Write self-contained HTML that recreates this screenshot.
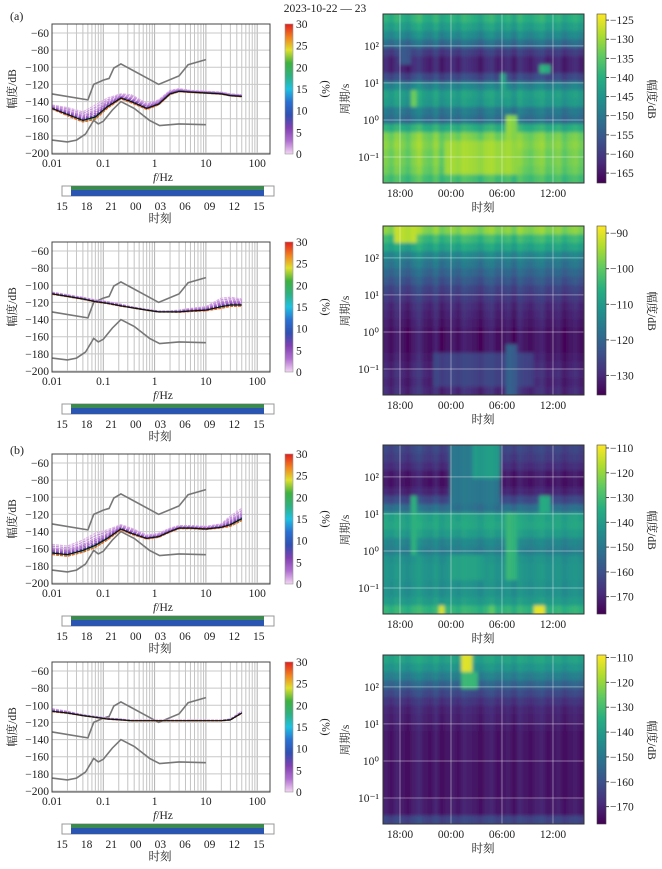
<!DOCTYPE html>
<html><head><meta charset="utf-8">
<style>
html,body{margin:0;padding:0;background:#fff;}
svg{display:block;font-family:"Liberation Serif","Times New Roman","Noto Serif CJK SC",serif;}
text{fill:#222;}
</style></head>
<body>
<svg id="fig" width="662" height="869" viewBox="0 0 662 869" xmlns="http://www.w3.org/2000/svg">
<defs>
<filter id="blur" x="0" y="0" width="1" height="1"><feGaussianBlur stdDeviation="1.6"/></filter>
</defs>
<text x="325" y="12" font-size="11.5" text-anchor="middle">2023-10-22 — 23</text>
<text x="10" y="20" font-size="12">(a)</text>
<text x="10" y="454" font-size="12">(b)</text>
</svg>
<script>
// ---------- data ----------
const freqs=[0.01,0.02,0.04,0.07,0.12,0.22,0.35,0.7,1.2,2,3,5,10,20,30,50];
const medA=[-148,-155,-162,-158,-146,-136,-140,-148,-143,-131,-128,-129,-130,-131,-133,-134];
const spreadA=[4,8,10,14,10,5,8,6,5,4,3,2,2,2,2,2];
const medB=[-110,-113,-116,-119,-121,-124,-126,-129,-131,-131,-131,-130,-129,-125,-123,-123];
const spreadB=[2,2,2,2,2,2,1,1,1,1,2,3,4,10,9,7];
const medC=[-165,-167,-162,-156,-148,-137,-142,-148,-146,-140,-136,-136,-137,-135,-132,-125];
const spreadC=[10,10,12,14,10,5,6,4,4,4,3,3,3,4,10,12];
const medD=[-107,-109,-112,-114,-116,-117,-118,-118,-118,-118,-118,-118,-118,-118,-117,-109];
const spreadD=[3,2,1,1,1,1,0.5,0.5,0.5,0.5,0.5,0.5,0.5,0.5,1,2];
const lineOffsets=[1.0,0.8,0.6,0.45,0.3,0.15,0.05,-0.1,-0.2,-0.3];
const linePct=[1,2,2,3,4,6,9,14,20,28];
const hiF=[0.01,0.05,0.065,0.1,0.13,0.16,0.22,1.2,3,4.5,10];
const hiDb=[-131,-138,-120,-115,-113,-101,-96,-120,-110,-97,-91];
const loF=[0.01,0.02,0.03,0.045,0.065,0.08,0.1,0.15,0.22,0.4,0.8,1.25,3,10];
const loDb=[-185,-187,-185,-178,-162,-166,-163,-150,-140,-148,-162,-168,-166,-167];
const dbTicks=[-60,-80,-100,-120,-140,-160,-180,-200];
const fTicks=[0.01,0.1,1,10,100];
const fTickLabels=['0.01','0.1','1','10','100'];
const pctTicks=[0,5,10,15,20,25,30];
const hourLabels=['15','18','21','00','03','06','09','12','15'];

// spectrogram data (rows from long period to short period)
const rowsA=[-140,-143,-147,-152,-160,-163,-163,-158,-148,-143,-144,-150,-152,-140,-133,-132,-133,-133,-134,-137];
const eventsA=[[3.2,3.8,0.3,0.9,-134],[13.5,14.5,0.6,1.3,-142],[14.5,16,-0.6,0.2,-131],[18.3,19.5,1.2,1.6,-140],[7,16,-1.4,-0.5,-130],[2,3,1.4,2.0,-155]];
const rowsB=[-97,-104,-108,-114,-117,-120,-123,-126,-128,-130,-131,-132,-133,-133,-133,-132,-131,-130,-131,-130];
const eventsB=[[6,18,-1.45,-0.6,-126],[14.5,15.5,-1.6,-0.3,-121],[1,4,2.5,2.86,-93]];
const rowsC=[-163,-165,-168,-172,-173,-170,-162,-152,-138,-137,-140,-146,-148,-143,-142,-142,-143,-143,-140,-133];
const eventsC=[[8,13.5,1.3,2.86,-150],[10.5,13.5,2.0,2.86,-140],[3.2,4,0,1.5,-134],[14.5,15.5,-0.7,1.0,-132],[18.5,19.5,1.0,1.6,-136],[6.5,7.5,-1.7,-1.45,-112],[17.8,18.8,-1.7,-1.45,-112],[12.5,13.2,-1.7,-1.45,-127],[8,12,-0.7,0,-138]];
const rowsD=[-138,-142,-148,-155,-162,-167,-170,-171,-172,-173,-173,-173,-173,-173,-173,-173,-173,-172,-172,-163];
const eventsD=[[9.5,10.5,2.5,2.86,-113],[9,11,2.0,2.5,-132]];
const colVar=[1,-1,2,0,-2,1,3,0,-1,2,-2,0,1,-1,2,1,0,-2,1,2,-1,0,1,-2,2,0,-1,1,2,-1,0,1,-2,0,1,-1];
const timeLabels=['18:00','00:00','06:00','12:00'];
const timeHours=[2,8,14,20];
const periodTicks=[2,1,0,-1];
const periodLabels=['10²','10¹','10⁰','10⁻¹'];

// ---------- helpers ----------
const NS='http://www.w3.org/2000/svg';
const svg=document.getElementById('fig');
function mk(tag,attrs,parent){const e=document.createElementNS(NS,tag);for(const k in attrs)e.setAttribute(k,attrs[k]);(parent||svg).appendChild(e);return e;}
function tag(el,name,inter){
  
  
  return el;
}
function txt(x,y,s,size,anchor,parent){const t=mk('text',{x:x,y:y,'font-size':size||11.5,'text-anchor':anchor||'start'},parent);t.textContent=s;return t;}
function lerpColor(stops,v){
  v=Math.max(0,Math.min(1,v));const n=stops.length-1;const i=Math.min(n-1,Math.floor(v*n));const f=v*n-i;
  const a=stops[i],b=stops[i+1];
  const h=c=>[parseInt(c.substr(1,2),16),parseInt(c.substr(3,2),16),parseInt(c.substr(5,2),16)];
  const A=h(a),B=h(b);
  return 'rgb('+A.map((x,k)=>Math.round(x+(B[k]-x)*f)).join(',')+')';
}
const viridis=['#440154','#472d7b','#3b528b','#2c728e','#21918c','#28ae80','#5ec962','#addc30','#fde725'];
const pctStops=['#f3d6f3','#b070d0','#8040b0','#3050b0','#2a70d0','#20c0e0','#30b080','#40b040','#e0e030','#f08020','#e02020'];
function pctColor(p){return lerpColor(pctStops,p/30);}

// ---------- PSD panels ----------
function psdPanel(idx,top,med,spread){
  const g=tag(mk('g',{}),'psd-panel-'+idx);
  const L=52,R=270,B=top+130;
  const fx=f=>L+(Math.log10(f)+2)*51.3;
  const dy=d=>top+9+(-60-d)*(120/140);
  tag(mk('rect',{x:L,y:top,width:R-L,height:B-top,fill:'#fff'},g),'plot-area');
  const gg=tag(mk('g',{},g),'grid');
  for(let e=-2;e<=2;e++)for(let m=1;m<=9;m++){const x=fx(m*Math.pow(10,e));if(x>R)continue;
    mk('line',{x1:x,x2:x,y1:top,y2:B,stroke:m===1?'#b0b0b0':'#c4c4c4','stroke-width':1},gg);}
  dbTicks.forEach(d=>{mk('line',{x1:L,x2:R,y1:dy(d),y2:dy(d),stroke:'#c8c8c8','stroke-width':1},gg);});
  const path=(F,D)=>F.map((f,i)=>(i?'L':'M')+fx(f).toFixed(1)+','+dy(D[i]).toFixed(1)).join('');
  tag(mk('path',{d:path(hiF,hiDb),fill:'none',stroke:'#777','stroke-width':1.6},g),'high-noise-model');
  tag(mk('path',{d:path(loF,loDb),fill:'none',stroke:'#777','stroke-width':1.6},g),'low-noise-model');
  lineOffsets.forEach((o,k)=>{
    const D=med.map((m,i)=>m+o*spread[i]*(o<0?0.6:1));
    tag(mk('path',{d:path(freqs,D),fill:'none',stroke:pctColor(linePct[k]),'stroke-width':1.3,'stroke-dasharray':'3,1'},g),'psd-line');
  });
  tag(mk('path',{d:path(freqs,med),fill:'none',stroke:'#111','stroke-width':1.2},g),'median-psd-line');
  tag(mk('rect',{x:L,y:top,width:R-L,height:B-top,fill:'none',stroke:'#444','stroke-width':1},g),'plot-frame');
  dbTicks.forEach(d=>{tag(txt(L-3,dy(d)+4,'−'+(-d),11.5,'end',g),'y-tick-label');});
  fTicks.forEach((f,i)=>{tag(txt(fx(f),B+13,fTickLabels[i],11.5,'middle',g),'x-tick-label');});
  const yl=tag(txt(0,0,'幅度/dB',11.5,'middle',g),'y-axis-title');yl.setAttribute('transform','translate(16,'+(top+65)+') rotate(-90)');
  const xl=tag(mk('text',{x:163,y:B+27,'font-size':11.5,'text-anchor':'middle'},g),'x-axis-title');
  xl.innerHTML='<tspan font-style="italic">f</tspan>/Hz';
  const gid='pg'+idx;const def=mk('defs',{},g);const lg=mk('linearGradient',{id:gid,x1:0,y1:1,x2:0,y2:0},def);
  pctStops.forEach((c,i)=>mk('stop',{offset:i/(pctStops.length-1),'stop-color':c},lg));
  tag(mk('rect',{x:285,y:top,width:8,height:130,fill:'url(#'+gid+')',stroke:'#999','stroke-width':0.6},g),'percent-colorbar');
  pctTicks.forEach(p=>{tag(txt(296,top+130-p/30*130+4,String(p),11.5,'start',g),'colorbar-tick-label');});
  const pl=tag(txt(0,0,'(%)',11.5,'middle',g),'colorbar-title');pl.setAttribute('transform','translate(322,'+(top+65)+') rotate(90)');
  const tb=top+162;
  tag(mk('rect',{x:62,y:tb,width:212,height:10,fill:'#fff',stroke:'#999','stroke-width':1},g),'time-range-bar');
  tag(mk('rect',{x:71,y:tb,width:193,height:4,fill:'#3d8a50'},g),'time-coverage-green');
  tag(mk('rect',{x:71,y:tb+4,width:193,height:6,fill:'#2a55b0'},g),'time-coverage-blue');
  hourLabels.forEach((h,i)=>{tag(txt(62+i*24.6,tb+24,h,11.5,'middle',g),'time-tick-label');});
  tag(txt(160,tb+36,'时刻',11.5,'middle',g),'time-axis-title');
}
psdPanel(1,24,medA,spreadA);
psdPanel(2,242,medB,spreadB);
psdPanel(3,454,medC,spreadC);
psdPanel(4,662,medD,spreadD);

// ---------- spectrograms ----------
function specPanel(idx,top,rows,events,vmin,vmax,cbTicks){
  const g=tag(mk('g',{}),'spectrogram-panel-'+idx);
  const L=383,R=584,B=top+169;
  const pTop=2.86,pBot=-1.7,tEnd=23.65;
  const tx=t=>L+t*(R-L)/tEnd;
  const py=p=>top+(pTop-p)*(B-top)/(pTop-pBot);
  const nr=rows.length,nc=colVar.length;
  const cid='clip'+idx;const cd=mk('defs',{},g);const cp=mk('clipPath',{id:cid},cd);
  mk('rect',{x:L,y:top,width:R-L,height:B-top},cp);
  const outer=mk('g',{'clip-path':'url(#'+cid+')'},g);
  const cg=tag(mk('g',{filter:'url(#blur)'},outer),'heatmap');
  for(let r=0;r<nr;r++){
    const p0=pTop-r*(pTop-pBot)/nr,p1=pTop-(r+1)*(pTop-pBot)/nr,pc=(p0+p1)/2;
    for(let c=0;c<nc;c++){
      const t0=c*tEnd/nc,t1=(c+1)*tEnd/nc,tc=(t0+t1)/2;
      let v=rows[r]+colVar[c];
      events.forEach(e=>{if(tc>=e[0]&&tc<=e[1]&&pc>=Math.min(e[2],e[3])&&pc<=Math.max(e[2],e[3]))v=e[4]+colVar[c]*0.5;});
      const ex=c===0?-4:0,ey=r===0?-4:0,ew=c===nc-1?4:0,eh=r===nr-1?4:0;
      const cell=mk('rect',{x:(tx(t0)+ex).toFixed(2),y:(py(p0)+ey).toFixed(2),width:(tx(t1)-tx(t0)+0.6-ex+ew).toFixed(2),height:(py(p1)-py(p0)+0.6-ey+eh).toFixed(2),fill:lerpColor(viridis,(v-vmin)/(vmax-vmin))},cg);
      
      
    }
  }
  const gr=tag(mk('g',{},g),'grid');
  periodTicks.forEach(p=>mk('line',{x1:L,x2:R,y1:py(p),y2:py(p),stroke:'rgba(255,255,255,0.4)','stroke-width':1},gr));
  timeHours.forEach(h=>mk('line',{x1:tx(h),x2:tx(h),y1:top,y2:B,stroke:'rgba(255,255,255,0.4)','stroke-width':1},gr));
  tag(mk('rect',{x:L,y:top,width:R-L,height:B-top,fill:'none',stroke:'#333','stroke-width':1},g),'plot-frame');
  periodTicks.forEach((p,i)=>{tag(txt(L-4,py(p)+4,periodLabels[i],11.5,'end',g),'y-tick-label');});
  timeLabels.forEach((s,i)=>{tag(txt(tx(timeHours[i]),B+14,s,11.5,'middle',g),'x-tick-label');});
  tag(txt(483,B+28,'时刻',11.5,'middle',g),'x-axis-title');
  const yl=tag(txt(0,0,'周期/s',11.5,'middle',g),'y-axis-title');yl.setAttribute('transform','translate(349,'+(top+85)+') rotate(-90)');
  const gid='vg'+idx;const def=mk('defs',{},g);const lg=mk('linearGradient',{id:gid,x1:0,y1:1,x2:0,y2:0},def);
  viridis.forEach((c,i)=>mk('stop',{offset:i/(viridis.length-1),'stop-color':c},lg));
  tag(mk('rect',{x:597,y:top,width:9,height:B-top,fill:'url(#'+gid+')',stroke:'#444','stroke-width':0.6},g),'amplitude-colorbar');
  cbTicks.forEach(v=>{const y=B-(v-vmin)/(vmax-vmin)*(B-top);
    mk('line',{x1:606,x2:609,y1:y,y2:y,stroke:'#444'},g);
    tag(txt(610,y+4,'−'+(-v),11.5,'start',g),'colorbar-tick-label');});
  const cl=tag(txt(0,0,'幅度/dB',11.5,'middle',g),'colorbar-title');cl.setAttribute('transform','translate(648,'+(top+85)+') rotate(90)');
}
specPanel(1,14,rowsA,eventsA,-167.6,-123.4,[-125,-130,-135,-140,-145,-150,-155,-160,-165]);
specPanel(2,226,rowsB,eventsB,-135.5,-88,[-90,-100,-110,-120,-130]);
specPanel(3,445,rowsC,eventsC,-177,-108.8,[-110,-120,-130,-140,-150,-160,-170]);
specPanel(4,655,rowsD,eventsD,-177,-109,[-110,-120,-130,-140,-150,-160,-170]);
</script>
</body></html>
